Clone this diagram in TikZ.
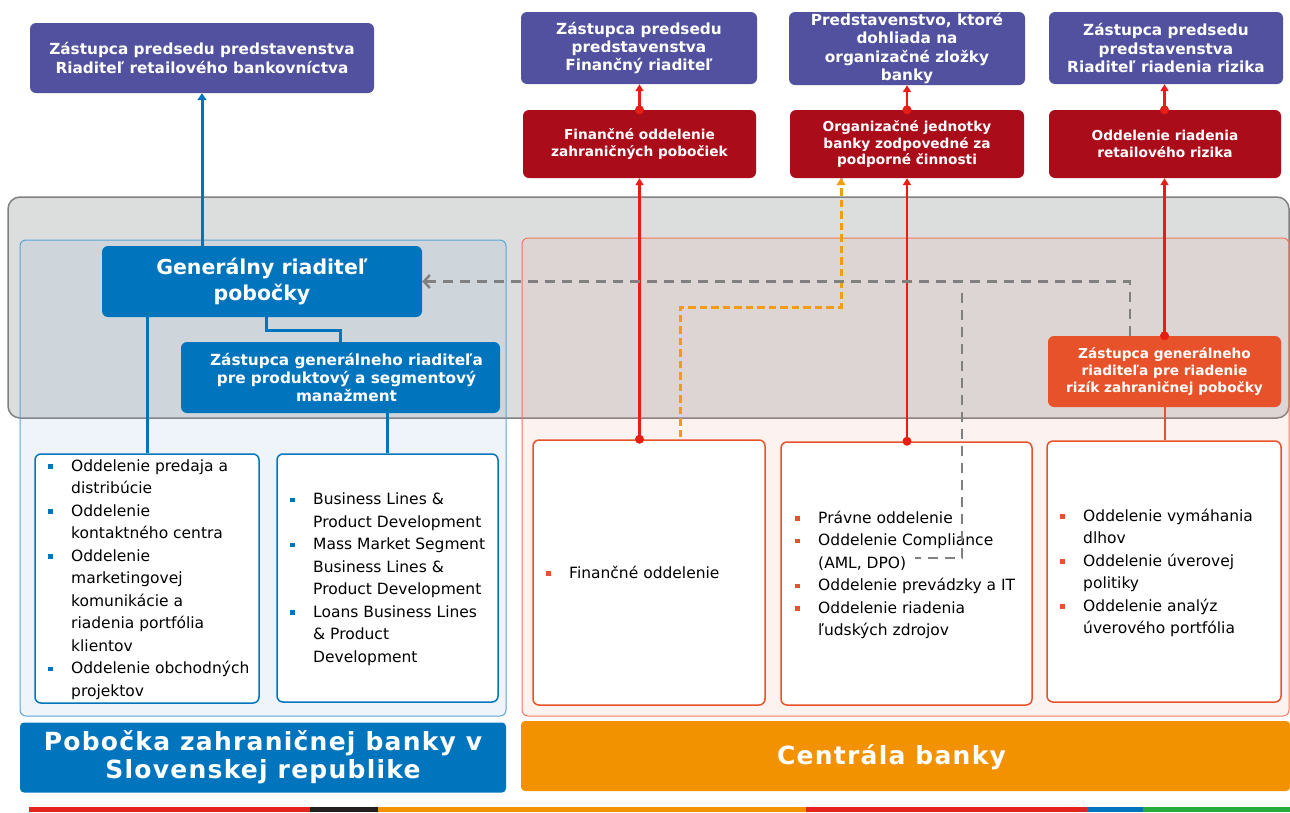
\documentclass[tikz,border=0pt]{standalone}
\usepackage{fontspec}
\setmainfont{DejaVu Sans}
\usetikzlibrary{arrows.meta,calc}
\definecolor{purp}{RGB}{81,81,160}
\definecolor{dred}{RGB}{170,12,26}
\definecolor{bblue}{RGB}{0,117,190}
\definecolor{obox}{RGB}{232,82,42}
\definecolor{oban}{RGB}{243,146,0}
\definecolor{rline}{RGB}{230,30,20}
\definecolor{bandfill}{RGB}{220,221,221}
\definecolor{bandline}{RGB}{128,128,128}
\definecolor{lpfill}{RGB}{114,167,210}
\definecolor{lpline}{RGB}{90,165,215}
\definecolor{rpfill}{RGB}{237,158,140}
\definecolor{rpline}{RGB}{240,120,90}
\definecolor{dorange}{RGB}{243,156,18}
\definecolor{dgray}{RGB}{128,128,128}
\definecolor{sred}{RGB}{228,35,30}
\definecolor{sblack}{RGB}{35,31,32}
\definecolor{sgreen}{RGB}{40,170,60}
\newcommand\blt[1]{\makebox[23pt][l]{\raisebox{2.5pt}{\textcolor{#1}{\rule{4.5pt}{4.5pt}}}}}
\newcommand\ind{\hspace*{23pt}}
\begin{document}
\begin{tikzpicture}[x=1pt,y=-1pt,
  box/.style={rounded corners=6pt, inner sep=0pt, text=white, align=center},
  bigbold/.style={font=\bfseries\fontsize{15.3}{18.3}\selectfont},
  midbold/.style={font=\bfseries\fontsize{13.7}{16.7}\selectfont},
  hugebold/.style={font=\bfseries\fontsize{20.5}{26.7}\selectfont},
  listbox/.style={rounded corners=6pt, fill=white, line width=1.5pt, inner sep=0pt},
  listtext/.style={inner sep=0pt, align=left, anchor=north west, text=black, font=\fontsize{15.5}{22.5}\selectfont},
  banner/.style={rounded corners=4pt, inner sep=0pt},
  bannertext/.style={inner sep=0pt, text=white, align=center, font=\bfseries\fontsize{25}{28.3}\selectfont\addfontfeature{LetterSpace=5}},
  redarrow/.style={rline, line width=2.5pt, -{Triangle[length=7pt,width=8pt]}},
  bluearrow/.style={bblue, line width=3pt, -{Triangle[length=7pt,width=9pt]}},
  blueline/.style={bblue, line width=3pt},
  graydash/.style={dgray, line width=2.5pt, dash pattern=on 10pt off 7pt},
  orangedash/.style={dorange, line width=3pt, dash pattern=on 7.5pt off 4pt}
]
\useasboundingbox (0,0) rectangle (1290,812);
\fill[white] (0,0) rectangle (1290,812);

% background band and panels
\draw[bandline, line width=1.5pt, fill=bandfill, rounded corners=12pt] (8,197) rectangle (1289,418);
\draw[lpline, line width=1pt, rounded corners=6pt, fill=lpfill, fill opacity=0.114] (20,240) rectangle (506,716);
\draw[rpline, line width=1pt, rounded corners=6pt, fill=rpfill, fill opacity=0.114] (522,238) rectangle (1289,716);

% top purple boxes
\node[box, fill=purp, minimum width=344pt, minimum height=70pt, bigbold] (P1) at (202,58) {Zástupca predsedu predstavenstva\\Riaditeľ retailového bankovníctva};
\node[box, fill=purp, minimum width=236pt, minimum height=72pt, bigbold] (P2) at (639,48) {Zástupca predsedu\\predstavenstva\\Finančný riaditeľ};
\node[box, fill=purp, minimum width=236pt, minimum height=73pt, bigbold] (P3) at (907,48.5) {Predstavenstvo, ktoré\\dohliada na\\organizačné zložky\\banky};
\node[box, fill=purp, minimum width=234pt, minimum height=72pt, bigbold] (P4) at (1166,48) {Zástupca predsedu\\predstavenstva\\Riaditeľ riadenia rizika};

% dark red boxes
\node[box, fill=dred, minimum width=233pt, minimum height=68pt, midbold] (R1) at (639.5,144) {Finančné oddelenie\\zahraničných pobočiek};
\node[box, fill=dred, minimum width=234pt, minimum height=68pt, midbold] (R2) at (907,144) {Organizačné jednotky\\banky zodpovedné za\\podporné činnosti};
\node[box, fill=dred, minimum width=232pt, minimum height=68pt, midbold] (R3) at (1165,144) {Oddelenie riadenia\\retailového rizika};

% branch boxes
\node[box, fill=bblue, minimum width=320pt, minimum height=71pt, hugebold] (GR) at (262,281.5) {Generálny riaditeľ\\pobočky};
\node[box, fill=bblue, minimum width=319pt, minimum height=71pt, bigbold] (ZG) at (340.5,377.5) {\hspace*{12pt}Zástupca generálneho riaditeľa\\\hspace*{12pt}pre produktový a segmentový\\\hspace*{12pt}manažment};
\node[box, fill=obox, minimum width=233pt, minimum height=71pt, midbold] (OB) at (1164.5,371.5) {Zástupca generálneho\\riaditeľa pre riadenie\\rizík zahraničnej pobočky};

% list boxes
\node[listbox, draw=bblue, minimum width=224pt, minimum height=249pt] (L1) at (147,578.5) {};
\node[listbox, draw=bblue, minimum width=221pt, minimum height=248pt] (L2) at (387.5,578) {};
\node[listbox, draw=obox, minimum width=232pt, minimum height=265pt] (C1) at (649,572.5) {};
\node[listbox, draw=obox, minimum width=251pt, minimum height=263pt] (C2) at (906.5,573.5) {};
\node[listbox, draw=obox, minimum width=234pt, minimum height=261pt] (C3) at (1164,571.5) {};

\node[listtext] (L1t) at (48,455.25) {\strut\blt{bblue}Oddelenie predaja a\\
\ind distribúcie\\
\blt{bblue}Oddelenie\\
\ind kontaktného centra\\
\blt{bblue}Oddelenie\\
\ind marketingovej\\
\ind komunikácie a\\
\ind riadenia portfólia\\
\ind klientov\\
\blt{bblue}Oddelenie obchodných\\
\ind projektov};
\node[listtext] (L2t) at (290,488.75) {\strut\blt{bblue}Business Lines \&\\
\ind Product Development\\
\blt{bblue}Mass Market Segment\\
\ind Business Lines \&\\
\ind Product Development\\
\blt{bblue}Loans Business Lines\\
\ind \& Product\\
\ind Development};
\node[listtext] (C1t) at (546,562.25) {\strut\blt{obox}Finančné oddelenie};
\node[listtext] (C2t) at (795,507.25) {\strut\blt{obox}Právne oddelenie\\
\blt{obox}Oddelenie Compliance\\
\ind (AML, DPO)\\
\blt{obox}Oddelenie prevádzky a IT\\
\blt{obox}Oddelenie riadenia\\
\ind ľudských zdrojov};
\node[listtext] (C3t) at (1060,505.25) {\strut\blt{obox}Oddelenie vymáhania\\
\ind dlhov\\
\blt{obox}Oddelenie úverovej\\
\ind politiky\\
\blt{obox}Oddelenie analýz\\
\ind úverového portfólia};

% banners
\node[banner, fill=bblue, minimum width=486pt, minimum height=70pt] (LB) at (263,757.5) {};
\node[bannertext] (LBt) at (263,757.5) {Pobočka zahraničnej banky v\\Slovenskej republike};
\node[banner, fill=oban, minimum width=769pt, minimum height=70pt] (RB) at (905.5,756) {};
\node[bannertext] (RBt) at (891.5,757) {Centrála banky};

% bottom colour strip
\fill[sred] (29,807) rectangle (310,812);
\fill[sblack] (310,807) rectangle (378,812);
\fill[oban] (378,807) rectangle (806,812);
\fill[sred] (806,807) rectangle (1087,812);
\fill[bblue] (1087,807) rectangle (1143,812);
\fill[sgreen] (1143,807) rectangle (1290,812);

% blue connectors
\draw[bluearrow] (P1.south |- GR.north) -- (P1.south);
\draw[blueline] ([xshift=4pt]GR.south) -- ++(0,13) -| (ZG.north);
\draw[blueline] (L1.north |- GR.south) -- (L1.north);
\draw[blueline] (L2.north |- ZG.south) -- (L2.north);

% red connectors
\draw[redarrow] (R1.south |- C1.north) -- (R1.south);
\fill[rline] (R1.south |- C1.north) circle (4.5pt);
\draw[redarrow] (R1.north) -- (R1.north |- P2.south);
\fill[rline] (R1.north) circle (4.5pt);
\draw[redarrow] (R2.south |- C2.north) -- (R2.south);
\fill[rline] (R2.south |- C2.north) circle (4.5pt);
\draw[redarrow] (R2.north) -- (R2.north |- P3.south);
\fill[rline] (R2.north) circle (4.5pt);
\draw[redarrow] (OB.north) -- (OB.north |- R3.south);
\fill[rline] (OB.north) circle (4.5pt);
\draw[redarrow] (OB.north |- R3.north) -- (OB.north |- P4.south);
\fill[rline] (OB.north |- R3.north) circle (4.5pt);
\draw[obox, line width=2pt] (OB.south) -- (OB.south |- C3.north);

% orange dashed connector
\coordinate (o1) at (680,437);
\coordinate (o2) at (680,307);
\draw[black, opacity=0.25, line width=3pt, dash pattern=on 7.5pt off 4pt, shift={(1.5pt,-1.5pt)}] (o1) -- (o2) -| ([xshift=-66pt]R2.south);
\draw[orangedash, -{Triangle[length=7pt,width=9pt]}] (o1) -- (o2) -| ([xshift=-66pt]R2.south);

% gray dashed connectors
\draw[graydash, -{Straight Barb[length=6pt,width=13pt]}] ([xshift=82pt]OB.north west) |- (GR.east);
\coordinate (g1) at (962,293);
\coordinate (g2) at (915,558);
\draw[graydash] (g1) |- (g2);
\end{tikzpicture}
\end{document}
